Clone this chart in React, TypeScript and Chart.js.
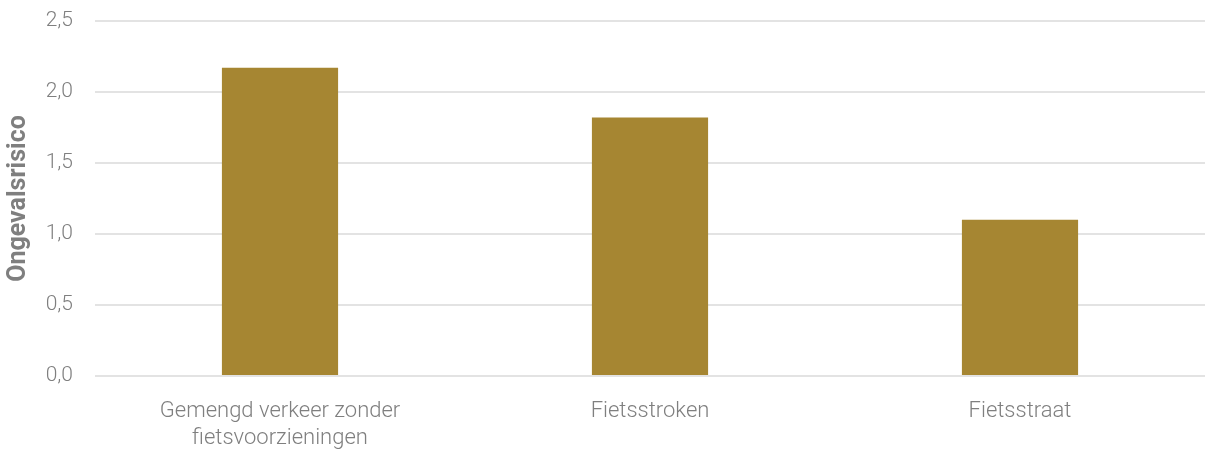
import React, { useEffect, useRef } from "react";
import { Chart, registerables } from "chart.js";

Chart.register(...registerables);

const categories: (string | string[])[] = [
  ["Gemengd verkeer zonder", "fietsvoorzieningen"],
  "Fietsstroken",
  "Fietsstraat",
];
const values = [2.17, 1.82, 1.1];
const yTicks = [0, 0.5, 1, 1.5, 2, 2.5];
const yTitle = "Ongevalsrisico";

export default function App() {
  const ref = useRef<HTMLCanvasElement | null>(null);
  useEffect(() => {
    document.body.style.margin = "0";
    const ctx = ref.current!;
    const chart = new Chart(ctx, {
      type: "bar",
      data: {
        labels: categories,
        datasets: [
          {
            data: values,
            backgroundColor: "#A68632",
            barPercentage: 0.314,
            categoryPercentage: 1,
          },
        ],
      },
      options: {
        animation: false,
        responsive: false,
        layout: { padding: { top: 21, right: 8, left: 0, bottom: 0 } },
        plugins: { legend: { display: false }, tooltip: { enabled: false } },
        scales: {
          x: {
            grid: { display: false, drawTicks: false },
            border: { display: false },
            ticks: {
              color: "#7f7f7f",
              padding: 22,
              font: { family: "Roboto", size: 22, weight: 300, lineHeight: 1.23 },
              maxRotation: 0,
              autoSkip: false,
            },
            afterFit: (s: any) => {
              s.height = 75;
            },
          },
          y: {
            min: 0,
            max: 2.5,
            afterBuildTicks: (s: any) => {
              s.ticks = yTicks.map((v) => ({ value: v }));
            },
            grid: {
              color: "#e3e3e3",
              lineWidth: 2,
              drawTicks: true,
              tickLength: 22,
              tickColor: "rgba(0,0,0,0)",
            },
            border: { display: false },
            ticks: {
              color: "#7f7f7f",
              padding: 0,
              font: { family: "Roboto", size: 21, weight: 300 },
              callback: (v: any) => Number(v).toFixed(1).replace(".", ","),
            },
            title: {
              display: true,
              text: yTitle,
              color: "#7f7f7f",
              font: { family: "Roboto", size: 25, weight: "bold" },
              padding: { top: 4, bottom: 0 },
            },
            afterFit: (s: any) => {
              s.width = 95;
            },
          },
        },
      },
    });
    return () => chart.destroy();
  }, []);
  return (
    <div style={{ width: 1213, height: 451 }}>
      <canvas ref={ref} width={1213} height={451} style={{ display: "block" }} />
    </div>
  );
}
